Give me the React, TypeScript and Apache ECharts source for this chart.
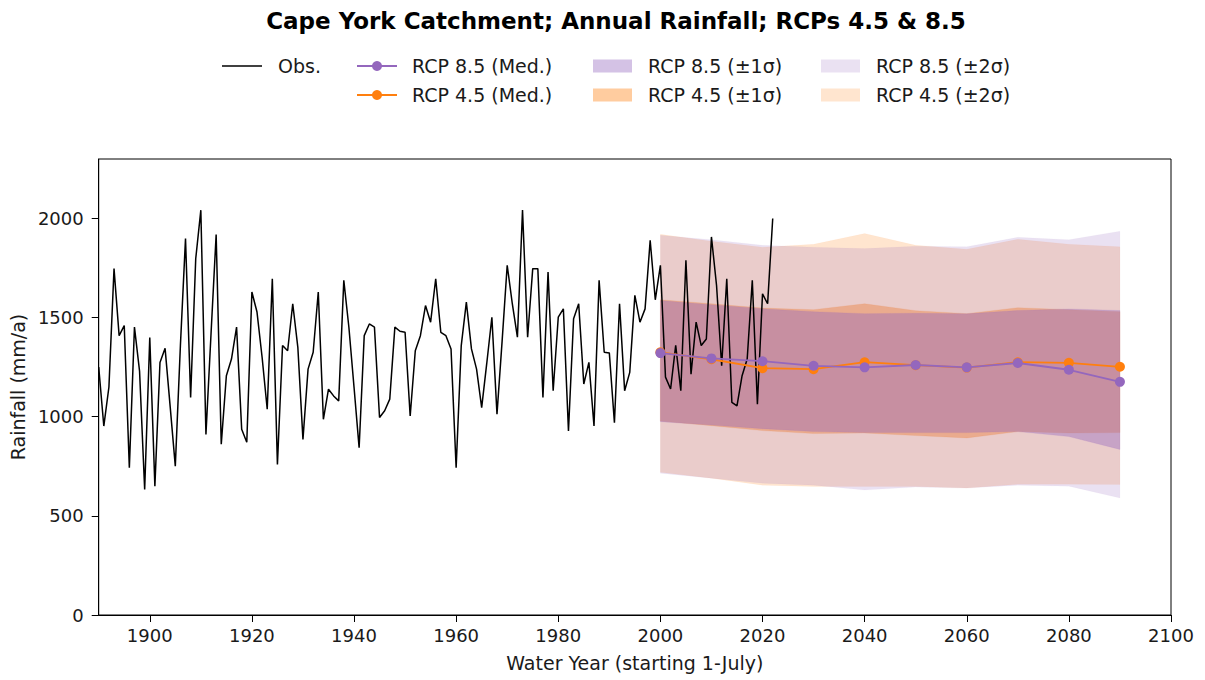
import React, { useEffect, useRef } from "react";
import * as echarts from "echarts";

// ---------- Data ----------
const obsStartYear = 1890;
const obsValues = [
  1250, 953, 1150, 1747, 1409, 1460, 743, 1452, 1230, 633,
  1400, 650, 1274, 1345, 1050, 751, 1359, 1899, 1097, 1797,
  2042, 911, 1420, 1919, 861, 1207, 1291, 1452, 937, 871,
  1629, 1528, 1300, 1038, 1696, 759, 1359, 1333, 1570, 1350,
  886, 1240, 1325, 1629, 987, 1139, 1105, 1080, 1688, 1450,
  1150, 844, 1409, 1468, 1452, 996, 1030, 1089, 1452, 1431,
  1426, 1004, 1333, 1409, 1561, 1477, 1696, 1426, 1409, 1342,
  743, 1359, 1578, 1342, 1240, 1046, 1270, 1502, 1013, 1380,
  1764, 1570, 1401, 2042, 1401, 1747, 1747, 1097, 1730, 1131,
  1502, 1544, 928, 1494, 1570, 1165, 1274, 953, 1688, 1325,
  1322, 970, 1570, 1131, 1224, 1612, 1477, 1544, 1890, 1590,
  1764, 1200, 1140, 1360, 1131, 1789, 1215, 1477, 1359, 1392,
  1907, 1662, 1257, 1696, 1072, 1055, 1207, 1291, 1688, 1063,
  1620, 1570, 2000,
];

const projYears = [2000, 2010, 2020, 2030, 2040, 2050, 2060, 2070, 2080, 2090];
const rcp85Med = [1321, 1294, 1280, 1257, 1249, 1261, 1249, 1271, 1237, 1176];
const rcp45Med = [1325, 1290, 1245, 1240, 1275, 1260, 1248, 1275, 1272, 1252];

const rcp85Hi1 = [1586, 1565, 1545, 1530, 1520, 1522, 1519, 1536, 1544, 1536];
const rcp85Lo1 = [975, 958, 940, 925, 920, 920, 920, 925, 900, 835];
const rcp45Hi1 = [1590, 1570, 1548, 1540, 1570, 1535, 1520, 1550, 1540, 1530];
const rcp45Lo1 = [978, 955, 930, 915, 918, 905, 893, 925, 918, 920];

const rcp85Hi2 = [1915, 1893, 1865, 1855, 1848, 1860, 1858, 1905, 1893, 1936];
const rcp85Lo2 = [715, 690, 665, 655, 630, 645, 640, 655, 650, 590];
const rcp45Hi2 = [1920, 1885, 1855, 1870, 1924, 1865, 1845, 1895, 1870, 1857];
const rcp45Lo2 = [720, 690, 655, 648, 648, 648, 640, 660, 660, 658];

const xTicks = [1900, 1920, 1940, 1960, 1980, 2000, 2020, 2040, 2060, 2080, 2100];
const yTicks = [0, 500, 1000, 1500, 2000];

const PURPLE = "#9467bd";
const ORANGE = "#ff7f0e";
const FONT = "DejaVu Sans";
const TXT = "#1a1a1a";

function band(lo: number[], hi: number[], color: string, opacity: number, z: number) {
  const data = projYears.map((y, i) => [y, lo[i], hi[i]]);
  return {
    type: "custom",
    data,
    encode: { x: 0, y: [1, 2] },
    silent: true,
    clip: true,
    z,
    renderItem: (params: any, api: any) => {
      if (params.dataIndex !== 0) return null;
      const upper = data.map((d) => api.coord([d[0], d[2]]));
      const lower = data.map((d) => api.coord([d[0], d[1]])).reverse();
      return {
        type: "polygon",
        shape: { points: upper.concat(lower) },
        style: { fill: color, opacity, stroke: color, lineWidth: 0.8, strokeOpacity: opacity },
      };
    },
  };
}

function legendItems() {
  const r1 = 66;
  const r2 = 95;
  const items: any[] = [];
  const text = (x: number, y: number, s: string) => ({
    type: "text",
    x,
    y,
    style: { text: s, fill: TXT, font: `19px "${FONT}"`, textVerticalAlign: "middle", verticalAlign: "middle" },
  });
  items.push({ type: "line", shape: { x1: 222, y1: r1, x2: 262, y2: r1 }, style: { stroke: "#000", lineWidth: 1.6 } });
  items.push(text(278, r1, "Obs."));
  [[r1, PURPLE, "RCP 8.5 (Med.)"], [r2, ORANGE, "RCP 4.5 (Med.)"]].forEach(([y, c, s]: any) => {
    items.push({ type: "line", shape: { x1: 357, y1: y, x2: 397, y2: y }, style: { stroke: c, lineWidth: 1.8 } });
    items.push({ type: "circle", shape: { cx: 377, cy: y, r: 5 }, style: { fill: c } });
    items.push(text(412, y, s));
  });
  const patches: any[] = [
    [593, r1, PURPLE, 0.4, "RCP 8.5 (±1σ)"],
    [593, r2, ORANGE, 0.4, "RCP 4.5 (±1σ)"],
    [821, r1, PURPLE, 0.2, "RCP 8.5 (±2σ)"],
    [821, r2, ORANGE, 0.2, "RCP 4.5 (±2σ)"],
  ];
  patches.forEach(([x, y, c, o, s]) => {
    items.push({ type: "rect", shape: { x, y: y - 6.5, width: 39, height: 13 }, style: { fill: c, opacity: o } });
    items.push(text(x + 55, y, s));
  });
  return items;
}

export default function App() {
  const ref = useRef<HTMLDivElement>(null);
  useEffect(() => {
    if (!ref.current) return;
    const chart = echarts.init(ref.current, null, { renderer: "svg" });
    const obsData = obsValues.map((v, i) => [obsStartYear + i, v]);
    const option: any = {
      animation: false,
      backgroundColor: "#ffffff",
      textStyle: { fontFamily: FONT },
      grid: {
        left: 98,
        right: 34,
        top: 159,
        bottom: 65,
        show: true,
        borderColor: "#000",
        borderWidth: 1,
        containLabel: false,
      },
      xAxis: {
        type: "value",
        min: 1890,
        max: 2100,
        name: "Water Year (starting 1-July)",
        nameLocation: "middle",
        nameGap: 38,
        nameTextStyle: { fontFamily: FONT, fontSize: 19, color: TXT },
        axisLine: { show: true, onZero: false, lineStyle: { color: "#000", width: 1 } },
        axisTick: { show: true, length: 7, lineStyle: { color: "#000" }, customValues: xTicks },
        axisLabel: {
          fontFamily: FONT,
          fontSize: 18,
          color: TXT,
          margin: 11,
          customValues: xTicks,
          formatter: (v: number) => String(v),
        },
        splitLine: { show: false },
      },
      yAxis: {
        type: "value",
        min: 0,
        max: 2300,
        name: "Rainfall (mm/a)",
        nameLocation: "middle",
        nameGap: 69,
        nameRotate: 90,
        nameTextStyle: { fontFamily: FONT, fontSize: 19, color: TXT },
        axisLine: { show: true, lineStyle: { color: "#000", width: 1 } },
        axisTick: { show: true, length: 7, lineStyle: { color: "#000" }, customValues: yTicks },
        axisLabel: {
          fontFamily: FONT,
          fontSize: 18,
          color: TXT,
          margin: 15,
          customValues: yTicks,
          formatter: (v: number) => String(v),
        },
        splitLine: { show: false },
      },
      series: [
        band(rcp45Lo2, rcp45Hi2, ORANGE, 0.2, 1),
        band(rcp45Lo1, rcp45Hi1, ORANGE, 0.4, 1),
        band(rcp85Lo2, rcp85Hi2, PURPLE, 0.2, 1),
        band(rcp85Lo1, rcp85Hi1, PURPLE, 0.4, 1),
        {
          name: "Obs.",
          type: "line",
          data: obsData,
          symbol: "none",
          lineStyle: { color: "#000", width: 1.5 },
          silent: true,
          z: 3,
        },
        {
          name: "RCP 4.5 (Med.)",
          type: "line",
          data: projYears.map((y, i) => [y, rcp45Med[i]]),
          symbol: "circle",
          symbolSize: 10,
          showSymbol: true,
          itemStyle: { color: ORANGE },
          lineStyle: { color: ORANGE, width: 1.8 },
          silent: true,
          z: 4,
        },
        {
          name: "RCP 8.5 (Med.)",
          type: "line",
          data: projYears.map((y, i) => [y, rcp85Med[i]]),
          symbol: "circle",
          symbolSize: 10,
          showSymbol: true,
          itemStyle: { color: PURPLE },
          lineStyle: { color: PURPLE, width: 1.8 },
          silent: true,
          z: 5,
        },
      ],
      graphic: [
        {
          type: "text",
          x: 616,
          y: 21,
          style: {
            text: "Cape York Catchment; Annual Rainfall; RCPs 4.5 & 8.5",
            fill: "#000",
            font: `bold 23px "${FONT}"`,
            textAlign: "center",
            align: "center",
            textVerticalAlign: "middle",
            verticalAlign: "middle",
          },
        },
        ...legendItems(),
      ],
    };
    chart.setOption(option);
    return () => chart.dispose();
  }, []);
  return (
    <div
      ref={ref}
      style={{ position: "fixed", left: 0, top: 0, width: 1205, height: 680, background: "#fff" }}
    />
  );
}
